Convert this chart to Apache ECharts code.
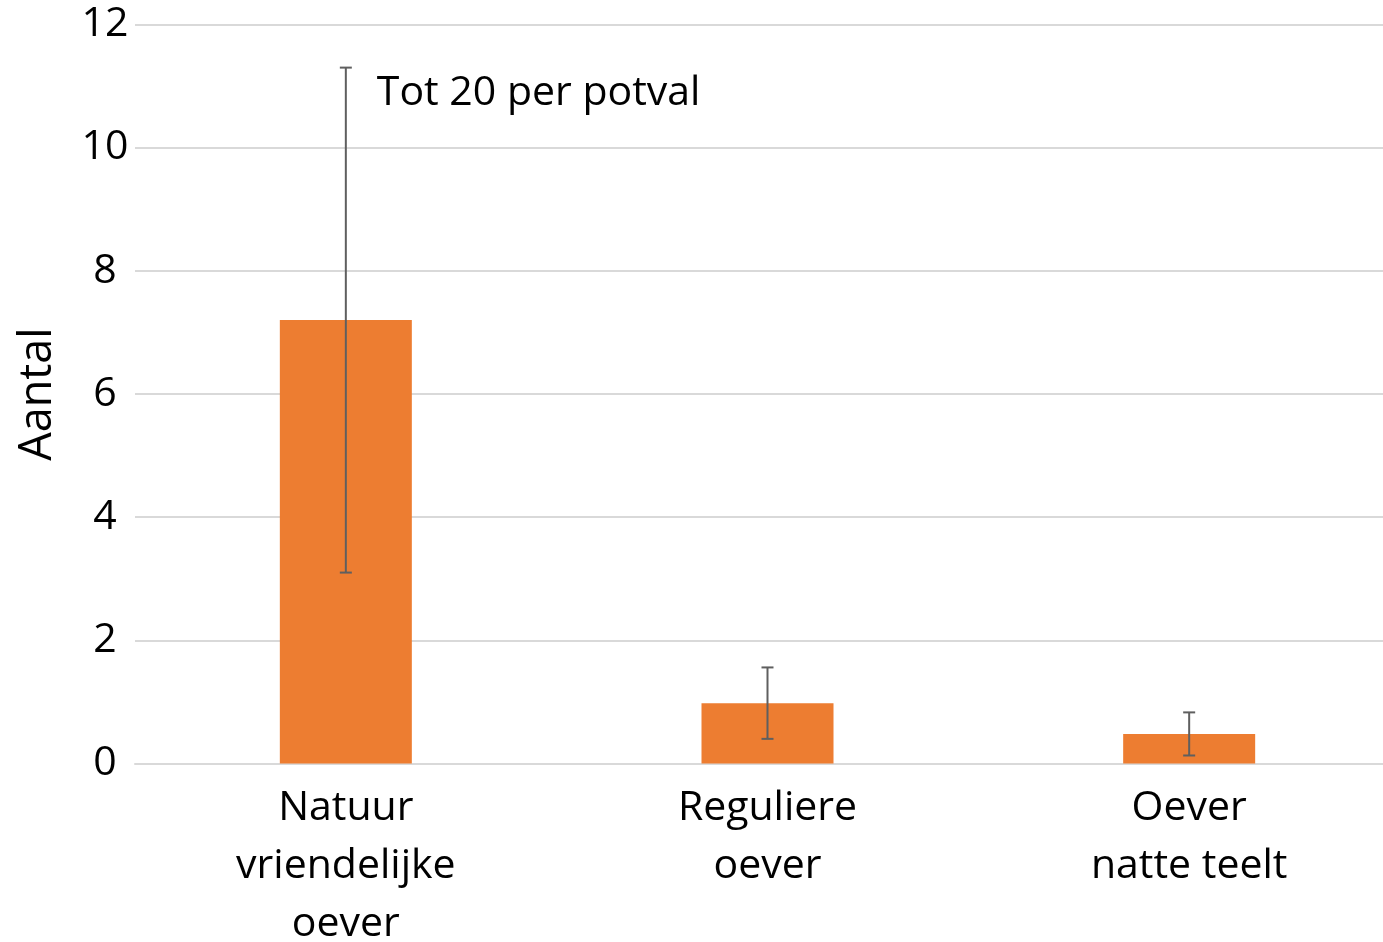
<!DOCTYPE html>
<html>
<head>
<meta charset="utf-8">
<script src="https://cdn.jsdelivr.net/npm/echarts@6/dist/echarts.min.js"></script>
<style>
  html, body { margin: 0; padding: 0; background: #fff; }
  #chart { width: 1383px; height: 942px; }
</style>
</head>
<body>
<div id="chart"></div>
<script>
const categories = ["Natuur\nvriendelijke\noever", "Reguliere\noever", "Oever\nnatte teelt"];
const values = [7.2, 0.98, 0.48];
const errors = [4.1, 0.58, 0.35];
const annotations = ["Tot 20 per potval", "", ""];
const yTicks = [0, 2, 4, 6, 8, 10, 12];

const font = "'Open Sans', sans-serif";
const chart = echarts.init(document.getElementById("chart"));

const errData = values.map((v, i) => [i, v - errors[i], v + errors[i], annotations[i]]);

chart.setOption({
  animation: false,
  grid: {
    left: 135, right: -17, top: 24.5, bottom: 178.5,
    containLabel: false,
    outerBoundsMode: "none",
  },
  xAxis: {
    type: "category",
    data: categories,
    axisLine: { lineStyle: { color: "#d9d9d9", width: 2 } },
    axisTick: { show: false },
    axisLabel: {
      color: "#000",
      fontFamily: font,
      fontSize: 41,
      lineHeight: 58,
      margin: 16,
      interval: 0,
    },
  },
  yAxis: {
    type: "value",
    min: yTicks[0],
    max: yTicks[yTicks.length - 1],
    interval: 2,
    name: "Aantal",
    nameLocation: "middle",
    nameRotate: 90,
    nameGap: 74,
    nameTextStyle: { color: "#000", fontFamily: font, fontSize: 45 },
    axisLine: { show: false },
    axisTick: { show: false },
    axisLabel: {
      color: "#000",
      fontFamily: font,
      fontSize: 41,
      margin: 30,
      align: "center",
      padding: [6, 0, 0, 0],
    },
    splitLine: { lineStyle: { color: "#d9d9d9", width: 2 } },
  },
  series: [
    {
      type: "bar",
      data: values,
      barWidth: 132,
      itemStyle: { color: "#ed7d31" },
    },
    {
      type: "custom",
      data: errData,
      z: 10,
      renderItem: (params, api) => {
        const x = api.value(0);
        const lo = api.coord([x, api.value(1)]);
        const hi = api.coord([x, api.value(2)]);
        const cap = 6;
        const style = { stroke: "#5f5f5f", lineWidth: 2 };
        const children = [
          { type: "line", shape: { x1: lo[0], y1: lo[1], x2: hi[0], y2: hi[1] }, style },
          { type: "line", shape: { x1: lo[0] - cap, y1: lo[1], x2: lo[0] + cap, y2: lo[1] }, style },
          { type: "line", shape: { x1: hi[0] - cap, y1: hi[1], x2: hi[0] + cap, y2: hi[1] }, style },
        ];
        const note = annotations[params.dataIndex];
        if (note) {
          children.push({
            type: "text",
            x: hi[0] + 31,
            y: hi[1] + 26,
            style: {
              text: note,
              fill: "#000",
              font: "41px " + font,
              textVerticalAlign: "middle",
            },
          });
        }
        return { type: "group", children };
      },
    },
  ],
});
</script>
</body>
</html>
